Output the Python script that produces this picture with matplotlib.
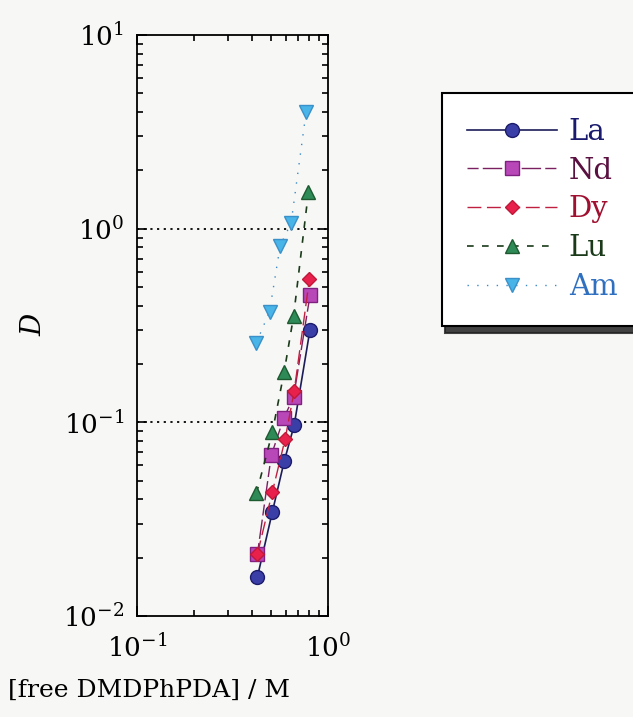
import matplotlib
matplotlib.use("Agg")
import matplotlib.pyplot as plt
from matplotlib.ticker import LogLocator, NullFormatter

plt.rcParams['font.family'] = ['DejaVu Serif']
plt.rcParams['mathtext.fontset'] = 'dejavuserif'

# Data
la_x = [0.427, 0.511, 0.590, 0.665, 0.805]
la_y = [0.0159, 0.0344, 0.063, 0.0966, 0.301]
nd_x = [0.427, 0.505, 0.586, 0.660, 0.805]
nd_y = [0.0209, 0.0676, 0.105, 0.1345, 0.452]
dy_x = [0.427, 0.511, 0.596, 0.665, 0.800]
dy_y = [0.0209, 0.0436, 0.0817, 0.1445, 0.552]
lu_x = [0.422, 0.511, 0.590, 0.660, 0.790]
lu_y = [0.043, 0.0888, 0.183, 0.352, 1.55]
am_x = [0.422, 0.494, 0.562, 0.641, 0.768]
am_y = [0.258, 0.373, 0.817, 1.07, 4.01]

series_names = ["La", "Nd", "Dy", "Lu", "Am"]
x_label = "[free DMDPhPDA] / M"
y_label = "D"

bg = "#f7f7f5"
fig = plt.figure(figsize=(6.33, 7.17), dpi=100, facecolor=bg)
ax = fig.add_axes([137/633, 1-616/717, 191/633, 581/717])
ax.set_facecolor(bg)
ax.set_xscale('log')
ax.set_yscale('log')
ax.set_xlim(0.1, 1.0)
ax.set_ylim(0.01, 10)

ax.axhline(1.0, color='black', lw=1.3, ls=(0, (1.2, 2.5)), zorder=1)
ax.axhline(0.1, color='black', lw=1.3, ls=(0, (1.2, 2.5)), zorder=1)

ms = 10
h_la, = ax.plot(la_x, la_y, '-', color='#1c1c5a', lw=1.2, marker='o', ms=ms,
                mfc='#3a3fa8', mec='#1c1c6a', mew=1.0, zorder=3)
h_nd, = ax.plot(nd_x, nd_y, color='#7a2060', lw=1.0, ls=(0, (8, 3, 14, 3)), marker='s', ms=ms,
                mfc='#b848b8', mec='#802080', mew=1.0, zorder=3)
h_dy, = ax.plot(dy_x, dy_y, color='#c02040', lw=1.0, ls=(0, (10, 4)), marker='D', ms=7.5,
                mfc='#e8204c', mec='#c01838', mew=1.0, zorder=4)
h_lu, = ax.plot(lu_x, lu_y, color='#1a3a1a', lw=1.2, ls=(0, (4, 5)), marker='^', ms=ms,
                mfc='#2e8b57', mec='#1d5a30', mew=1.0, zorder=3)
h_am, = ax.plot(am_x, am_y, color='#3a8ac8', lw=1.0, ls=(0, (1, 6)), marker='v', ms=ms,
                mfc='#48b4e8', mec='#3a90c8', mew=1.0, zorder=3)

ax.tick_params(which='both', direction='in', top=True, right=True)
ax.tick_params(which='major', length=7, width=1.2, labelsize=19)
ax.tick_params(axis='x', which='major', pad=13)
ax.tick_params(axis='y', which='major', pad=9)
ax.tick_params(which='minor', length=4, width=1.2)
ax.xaxis.set_minor_locator(LogLocator(base=10, subs=range(2, 10)))
ax.yaxis.set_minor_locator(LogLocator(base=10, subs=range(2, 10)))
ax.xaxis.set_minor_formatter(NullFormatter())
ax.yaxis.set_minor_formatter(NullFormatter())
for s in ax.spines.values():
    s.set_linewidth(1.3)

fig.text(0.235, 1-690/717, x_label, fontsize=18, ha='center', va='center')
fig.text(34/633, 1-325/717, y_label, fontsize=20, style='italic', rotation=90,
         ha='center', va='center')

handles = [h_la, h_nd, h_dy, h_lu, h_am]
leg = fig.legend(handles, series_names, loc='upper left',
                 bbox_to_anchor=(442/633, 1-93/717), fontsize=21,
                 frameon=True, fancybox=False,
                 shadow={'ox': 2, 'oy': -5, 'color': '#222222', 'alpha': 0.85},
                 handlelength=3.1, labelspacing=0.37, borderpad=0.85,
                 handletextpad=0.4, borderaxespad=0)
leg.get_frame().set_edgecolor('black')
leg.get_frame().set_linewidth(1.5)
leg.get_frame().set_facecolor('white')
text_colors = ['#1a1a6e', '#5a1040', '#a01030', '#1a3a1a', '#3070c0']
for t, c in zip(leg.get_texts(), text_colors):
    t.set_color(c)

fig.savefig("out.png", dpi=100, facecolor=bg)
